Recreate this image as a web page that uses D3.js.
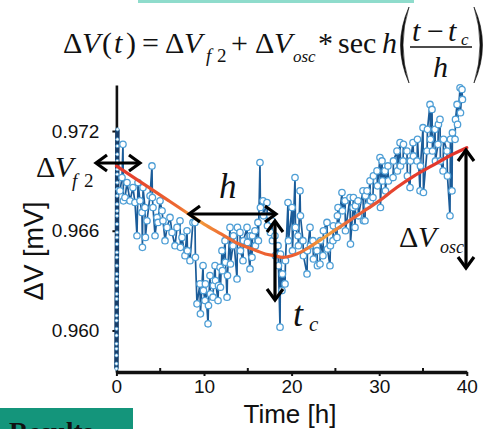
<!DOCTYPE html>
<html><head><meta charset="utf-8">
<script src="https://cdn.jsdelivr.net/npm/d3@7"></script>
<style>html,body{margin:0;padding:0;background:#fff;} svg{display:block;}</style>
</head><body>
<svg id="chart" width="496" height="429"></svg>
<script>
// ---------------- data ----------------
// start-up column of samples at t ≈ 0
const warmUpHours = [0.00,0.00,0.01,0.01,0.01,0.02,0.02,0.02,0.03,0.03,
                     0.03,0.04,0.04,0.04,0.05,0.05,0.05,0.06,0.06,0.06,
                     0.07,0.07,0.07,0.08,0.08,0.08,0.09,0.09,0.09,0.10,
                     0.10,0.10,0.11,0.11,0.12];
const warmUpMV    = [0.9577,0.9580,0.9585,0.9589,0.9592,0.9597,0.9601,0.9606,0.9609,0.9614,
                     0.9619,0.9622,0.9627,0.9631,0.9634,0.9639,0.9644,0.9647,0.9652,0.9656,
                     0.9659,0.9664,0.9669,0.9672,0.9676,0.9681,0.9685,0.9689,0.9694,0.9697,
                     0.9702,0.9706,0.9711,0.9715,0.9721];

// measured time series: time [h]
const timeHours = [
  0.41,0.64,0.75,0.80,0.98,1.21,1.55,1.89,2.12,2.35,
  2.47,2.69,2.92,2.97,3.04,3.26,3.31,3.49,3.84,4.06,
  4.11,4.18,4.41,4.64,4.75,4.98,5.21,5.32,5.55,5.78,
  6.12,6.35,6.69,6.92,7.26,7.31,7.49,7.83,8.06,8.11,
  8.40,8.74,
  8.97,9.02, 9.20, 9.54,9.59, 9.89,9.94, 10.11,10.16, 10.46,10.51,
  10.68,10.73, 11.03,11.08, 11.26,11.31, 11.60,11.65, 11.83,11.88,
  12.05,12.10, 12.40,12.45, 12.63,12.68, 12.97,13.02, 13.31,13.36,
  13.77,13.82, 14.11,14.16, 14.45,14.50, 14.91,14.96, 15.25,15.30,
  15.48,15.53, 15.82,15.87, 16.16,16.21, 16.39,16.44, 16.74,16.79,
  17.19,17.24, 17.53,17.58, 17.76,17.81, 18.10,18.15, 18.45,18.50,
  18.68,18.73, 18.90,18.95, 19.25,19.30, 19.59,19.64, 20.05,20.10,
  20.39,20.44, 20.73,20.78, 20.96,21.01, 21.30,21.35, 21.76,21.81,
  22.10,22.15, 22.44,22.49, 22.90,22.95, 23.24,23.29, 23.58,23.63,
  24.04,24.09, 24.38,24.43, 24.72,24.77, 25.18,25.23, 25.30,25.35,
  25.75,25.80, 26.10,26.15, 26.67,26.72, 27.01,27.06, 27.24,27.29,
  27.58,27.63, 28.15,28.20, 28.38,28.43, 28.61,28.66, 28.95,29.00,
  29.29,29.34, 29.75,29.80, 30.09,30.14, 30.32,30.37, 30.66,30.71,
  31.00,31.05, 31.58,31.63, 32.03,32.08, 32.38,32.43, 32.72,32.77,
  33.17,33.22, 33.52,33.57, 33.86,33.91, 34.32,34.37, 34.66,34.71,
  35.00,35.05, 35.46,35.51, 35.80,35.85, 36.03,36.08, 36.37,36.42,
  36.71,36.76, 36.94,36.99, 37.29,37.34, 37.74,37.79, 38.08,38.13,
  38.31,38.36, 38.66,38.71, 38.89,38.94, 39.23,39.28, 39.45,39.50
];
// measured time series: ΔV [mV]
const deltaVmV = [
  0.9684,0.9692,0.9712,0.9678,0.9680,0.9689,0.9678,0.9686,0.9677,0.9657,
  0.9689,0.9678,0.9671,0.9650,0.9686,0.9674,0.9656,0.9666,0.9681,0.9699,
  0.9680,0.9674,0.9657,0.9668,0.9665,0.9678,0.9672,0.9666,0.9654,0.9662,
  0.9668,0.9659,0.9651,0.9662,0.9666,0.9650,0.9656,0.9645,0.9660,0.9648,
  0.9642,0.9665,
  0.9665,0.9644, 0.9616, 0.9628,0.9610, 0.9639,0.9624, 0.9618,0.9628, 0.9604,0.9615,
  0.9633,0.9622, 0.9620,0.9627, 0.9639,0.9630, 0.9618,0.9627, 0.9638,0.9626,
  0.9648,0.9636, 0.9654,0.9641, 0.9620,0.9633, 0.9662,0.9640, 0.9651,0.9657,
  0.9631,0.9662, 0.9659,0.9648, 0.9642,0.9654, 0.9662,0.9653, 0.9637,0.9657,
  0.9644,0.9657, 0.9660,0.9651, 0.9665,0.9654, 0.9701,0.9674, 0.9678,0.9669,
  0.9677,0.9663, 0.9669,0.9659, 0.9666,0.9654, 0.9657,0.9645, 0.9651,0.9639,
  0.9602,0.9646, 0.9624,0.9634, 0.9628,0.9642, 0.9677,0.9654, 0.9674,0.9648,
  0.9692,0.9662, 0.9657,0.9651, 0.9684,0.9669, 0.9654,0.9645, 0.9634,0.9648,
  0.9662,0.9651, 0.9654,0.9643, 0.9648,0.9639, 0.9640,0.9654, 0.9645,0.9660,
  0.9665,0.9649, 0.9639,0.9651, 0.9654,0.9663, 0.9656,0.9669, 0.9674,0.9663,
  0.9683,0.9672, 0.9678,0.9660, 0.9680,0.9652, 0.9674,0.9680, 0.9662,0.9675,
  0.9678,0.9669, 0.9684,0.9666, 0.9666,0.9681, 0.9684,0.9675, 0.9690,0.9678,
  0.9680,0.9693, 0.9696,0.9687, 0.9704,0.9674, 0.9702,0.9690, 0.9696,0.9684,
  0.9699,0.9690, 0.9692,0.9702, 0.9708,0.9696, 0.9713,0.9699, 0.9702,0.9712,
  0.9708,0.9693, 0.9686,0.9702, 0.9713,0.9705, 0.9702,0.9715, 0.9684,0.9699,
  0.9722,0.9683, 0.9708,0.9721, 0.9736,0.9715, 0.9733,0.9708, 0.9721,0.9702,
  0.9712,0.9724, 0.9727,0.9702, 0.9696,0.9715, 0.9708,0.9693, 0.9669,0.9715,
  0.9684,0.9719, 0.9715,0.9727, 0.9736,0.9724, 0.9746,0.9731, 0.9745,0.9739
];

// fitted sech curve
const fitHours = [0, 2, 4, 6, 8, 10, 12, 14, 16, 17, 18, 19, 20, 21, 22, 24, 26, 28, 30, 32, 34, 36, 38, 40];
const fitMV    = [0.9699,0.9692,0.9685,0.9678,0.9671,0.9664,0.9658,0.9652,0.9648,0.9646,0.9645,0.9644,
                  0.9645,0.9647,0.9650,0.9657,0.9664,0.9671,0.9678,0.9686,0.9693,0.9699,0.9705,0.9710];

const yTickValues = [0.960, 0.966, 0.972];
const xTickValues = [0, 10, 20, 30, 40];
const xMinorTicks = [5, 15, 25, 35];
const xTitle = "Time [h]";
const yTitle = "ΔV [mV]";

// ---------------- drawing ----------------
const svg = d3.select("#chart");
const SANS = "'Liberation Sans', Arial, sans-serif";
const SERIF = "'Liberation Serif', 'Times New Roman', serif";

const x = d3.scaleLinear().domain([0, 40]).range([116.4, 466.8]);
const y = d3.scaleLinear().domain([0.9575, 0.97477]).range([372, 85]);

// decorative header line & footer box
svg.append("rect").attr("x", 138).attr("y", 0).attr("width", 276).attr("height", 3).attr("fill", "#8fdccc");
svg.append("rect").attr("x", 0).attr("y", 408).attr("width", 133).attr("height", 21).attr("fill", "#14957b");
svg.append("text").attr("x", 9).attr("y", 441).attr("font-family", SERIF).attr("font-weight", "bold")
  .attr("font-size", 27).attr("fill", "#111").text("Results");

// axes
const yAxis = svg.append("g").attr("transform", `translate(${x(0)},0)`)
  .call(d3.axisLeft(y).tickValues(yTickValues).tickFormat(d3.format(".3f"))
        .tickSize(4).tickSizeOuter(0).tickPadding(13));
const xAxis = svg.append("g").attr("transform", `translate(0,${y.range()[0]})`)
  .call(d3.axisBottom(x).tickValues(xTickValues).tickFormat(d3.format("d"))
        .tickSize(4).tickSizeOuter(0).tickPadding(4));
[yAxis, xAxis].forEach(g => {
  g.selectAll("text").attr("font-family", SANS).attr("font-size", 19).attr("fill", "#111");
  g.selectAll(".tick line").attr("stroke", "#111").attr("stroke-width", 2);
});
yAxis.select(".domain").attr("stroke", "#111").attr("stroke-width", 2.6);
xAxis.select(".domain").attr("stroke", "#111").attr("stroke-width", 3.4);
svg.append("g").selectAll("line").data(xMinorTicks).join("line")
  .attr("x1", d => x(d)).attr("x2", d => x(d))
  .attr("y1", y.range()[0]).attr("y2", y.range()[0] - 4)
  .attr("stroke", "#111").attr("stroke-width", 2);

// axis titles
svg.append("text").attr("x", 290).attr("y", 423).attr("text-anchor", "middle")
  .attr("font-family", SANS).attr("font-size", 26).attr("fill", "#111").text(xTitle);
svg.append("text").attr("transform", "translate(43,251) rotate(-90)").attr("text-anchor", "middle")
  .attr("font-family", SANS).attr("font-size", 27).attr("fill", "#111").text(yTitle);

// data
const warmIdx = d3.range(warmUpHours.length);
const mainIdx = d3.range(timeHours.length);
const warmLine = d3.line().x(i => x(warmUpHours[i])).y(i => y(warmUpMV[i]));
const mainLine = d3.line().x(i => x(timeHours[i])).y(i => y(deltaVmV[i]));
const LINE_BLUE = "#1b5c99", DOT_BLUE = "#4f9fd6";

svg.append("path").attr("d", warmLine(warmIdx)).attr("fill", "none")
  .attr("stroke", "#173f6b").attr("stroke-width", 4.5);
svg.append("g").selectAll("circle").data(warmIdx).join("circle")
  .attr("cx", i => x(warmUpHours[i])).attr("cy", i => y(warmUpMV[i])).attr("r", 1.6)
  .attr("fill", "#fff").attr("stroke", DOT_BLUE).attr("stroke-width", 0.8);

svg.append("path").attr("d", mainLine(mainIdx)).attr("fill", "none")
  .attr("stroke", LINE_BLUE).attr("stroke-width", 1.7);
svg.append("g").selectAll("circle").data(mainIdx).join("circle")
  .attr("cx", i => x(timeHours[i])).attr("cy", i => y(deltaVmV[i])).attr("r", 3.2)
  .attr("fill", "#fff").attr("stroke", DOT_BLUE).attr("stroke-width", 1.3);

// fitted curve with red/orange gradient
const defs = svg.append("defs");
const grad = defs.append("linearGradient").attr("id", "fitGrad").attr("gradientUnits", "userSpaceOnUse")
  .attr("x1", x(0)).attr("x2", x(40)).attr("y1", 0).attr("y2", 0);
[[0, "#e2352c"], [0.18, "#ee6a32"], [0.22, "#f3a63c"], [0.3, "#ee6f34"], [0.5, "#ec5a30"],
 [0.6, "#f2a23e"], [0.66, "#e9683a"], [0.8, "#e6412e"], [1, "#e0302a"]]
  .forEach(([o, c]) => grad.append("stop").attr("offset", o).attr("stop-color", c));
const fitLine = d3.line().x(i => x(fitHours[i])).y(i => y(fitMV[i])).curve(d3.curveMonotoneX);
svg.append("path").attr("d", fitLine(d3.range(fitHours.length))).attr("fill", "none")
  .attr("stroke", "url(#fitGrad)").attr("stroke-width", 3.2).attr("stroke-linecap", "round");

// annotation arrows
function doubleArrow(x1, y1, x2, y2) {
  const g = svg.append("g").attr("stroke", "#000").attr("fill", "none")
    .attr("stroke-width", 3.2).attr("stroke-linejoin", "miter");
  g.append("line").attr("x1", x1).attr("y1", y1).attr("x2", x2).attr("y2", y2);
  const len = Math.hypot(x2 - x1, y2 - y1), ux = (x2 - x1) / len, uy = (y2 - y1) / len;
  const nx = -uy, ny = ux, back = 11, spread = 8;
  [[x2, y2, ux, uy], [x1, y1, -ux, -uy]].forEach(([tx, ty, dx, dy]) => {
    g.append("path").attr("d",
      `M${tx - back * dx + spread * nx},${ty - back * dy + spread * ny}L${tx},${ty}L${tx - back * dx - spread * nx},${ty - back * dy - spread * ny}`);
  });
}
doubleArrow(96, 163, 140, 163);
doubleArrow(189, 214, 276, 214);
doubleArrow(275, 221, 275, 300);
doubleArrow(466, 150, 466, 268);

// text helper
function txt(s, px, py, size, italic) {
  const t = svg.append("text").attr("x", px).attr("y", py).attr("font-family", SERIF)
    .attr("font-size", size).attr("fill", "#111").text(s);
  if (italic) t.attr("font-style", "italic");
  return t;
}
// annotation labels
txt("Δ", 36, 177, 30); txt("V", 55, 177, 30, true); txt("f", 72, 187, 19, true); txt("2", 84, 187, 19);
txt("h", 219, 198, 35, true);
txt("t", 293, 326, 36, true); txt("c", 309, 331, 21, true);
txt("Δ", 399, 247, 30); txt("V", 418, 247, 30, true); txt("osc", 440, 253, 18, true);

// formula
txt("Δ", 63, 53, 30); txt("V", 82, 53, 30, true);
txt("(", 102, 53, 30); txt("t", 114, 53, 30, true); txt(")", 126, 53, 30);
txt("=", 142, 53, 30);
txt("Δ", 165, 53, 30); txt("V", 184, 53, 30, true); txt("f", 206, 62, 19, true); txt("2", 217, 62, 19);
txt("+", 231, 53, 30);
txt("Δ", 255, 53, 30); txt("V", 274, 53, 30, true); txt("osc", 293, 62, 17, true);
txt("*", 318, 53, 30);
txt("sec", 338, 53, 30); txt("h", 382, 53, 30, true);
svg.append("path").attr("d", "M409,7 Q392,45 409,83 Q397,45 409,7 Z").attr("fill", "#111").attr("stroke", "#111").attr("stroke-width", 0.6);
svg.append("path").attr("d", "M474,7 Q491,45 474,83 Q486,45 474,7 Z").attr("fill", "#111").attr("stroke", "#111").attr("stroke-width", 0.6);
txt("t", 412, 41, 30, true); txt("−", 427, 41, 30); txt("t", 448, 41, 30, true); txt("c", 461, 45, 17, true);
svg.append("line").attr("x1", 410).attr("x2", 472).attr("y1", 47).attr("y2", 47).attr("stroke", "#111").attr("stroke-width", 1.5);
txt("h", 433, 77, 30, true);
</script>
</body></html>
